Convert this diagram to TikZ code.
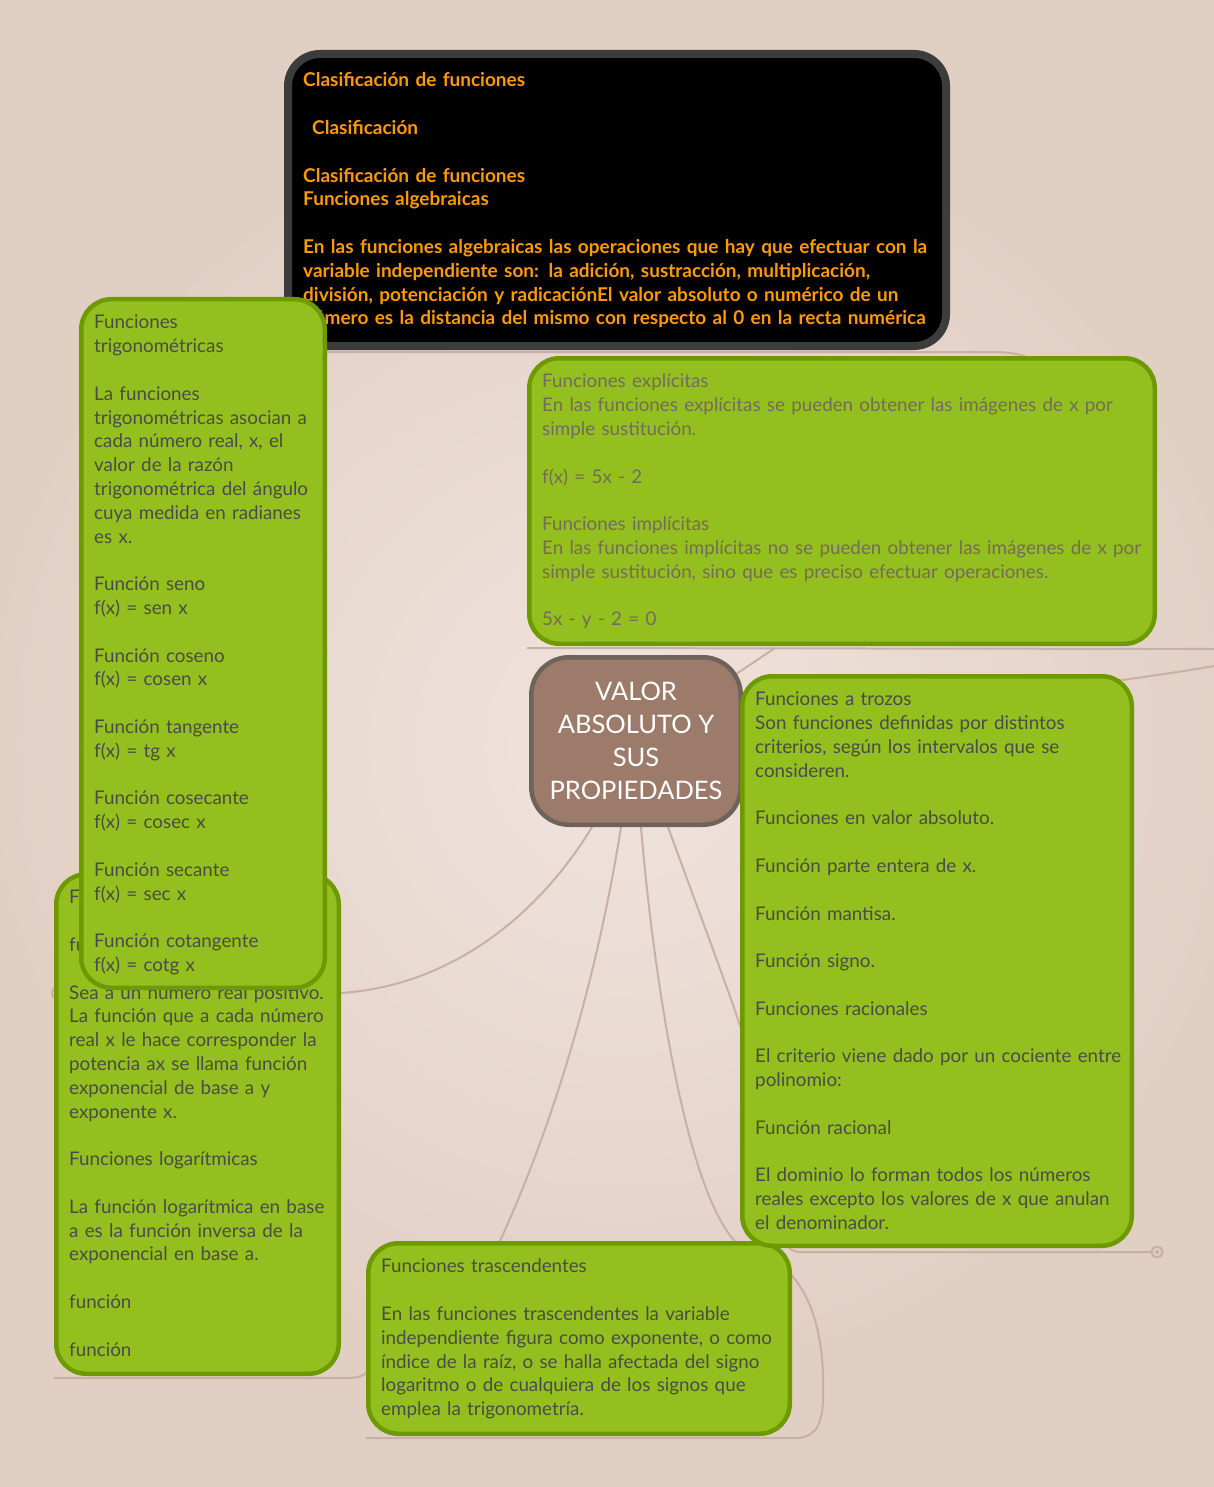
\documentclass[tikz,border=0pt]{standalone}
\usepackage{fontspec}
\setmainfont{Lato}
\definecolor{bgc}{HTML}{E2CFC4}
\definecolor{glow}{HTML}{F0E4DE}
\definecolor{lc}{HTML}{C8B0A4}
\definecolor{gfill}{HTML}{93C01F}
\definecolor{gline}{HTML}{6E9A00}
\definecolor{tx}{HTML}{4B4B48}
\definecolor{txl}{HTML}{756B5A}
\definecolor{orng}{HTML}{FF9A00}
\definecolor{blkline}{HTML}{3C3C3C}
\definecolor{cfill}{HTML}{9C7B6B}
\definecolor{cline}{HTML}{6E635B}
\pgfdeclarelayer{bglayer}
\pgfdeclarelayer{lines}
\pgfsetlayers{bglayer,lines,main}
\newcommand{\bl}{\\[\baselineskip]}
\begin{document}
\begin{tikzpicture}[x=1pt,y=-1pt,
  gbox/.style={draw=gline, fill=gfill, line width=4.5pt, rounded corners=30pt, inner sep=0pt},
  blkbox/.style={draw=blkline, fill=black, line width=8pt, rounded corners=32pt, inner sep=0pt},
  ctrbox/.style={draw=cline, fill=cfill, line width=4.5pt, rounded corners=38pt, inner sep=0pt},
  txt/.style={anchor=north west, inner sep=0pt, align=left, text width=#1, text=tx,
    font=\fontsize{18.8}{23.8}\selectfont},
  conn/.style={draw=lc, line width=2pt}
]
\useasboundingbox (0,0) rectangle (1214,1487);
\begin{pgfonlayer}{bglayer}
  \fill[bgc] (0,0) rectangle (1214,1487);
  \begin{scope}
    \clip (0,0) rectangle (1214,1487);
    \shade[inner color=glow, outer color=bgc] (620,745) circle[radius=640];
  \end{scope}
\end{pgfonlayer}

% boxes
\node[blkbox, minimum width=658pt, minimum height=292pt] (blk) at (617,200) {};
\node[txt=645pt, text=orng, font=\fontsize{19}{23.8}\selectfont\bfseries] (blkt) at (303,70) {\strut Clasificación de funciones\bl
\hspace*{9pt}Clasificación\bl
Clasificación de funciones\\
Funciones algebraicas\bl
En las funciones algebraicas las operaciones que hay que efectuar con la\\
variable independiente son: la adición, sustracción, multiplicación,\\
división, potenciación y radicaciónEl valor absoluto o numérico de un\\
número es la distancia del mismo con respecto al 0 en la recta numérica\strut};

\node[gbox, minimum width=625.5pt, minimum height=285.5pt] (expl) at (842,501) {};
\node[txt=620pt, text=txl] (explt) at (542,371) {\strut Funciones explícitas\\
En las funciones explícitas se pueden obtener las imágenes de x por\\
simple sustitución.\bl
f(x) = 5x - 2\bl
Funciones implícitas\\
En las funciones implícitas no se pueden obtener las imágenes de x por\\
simple sustitución, sino que es preciso efectuar operaciones.\bl
5x - y - 2 = 0\strut};

\node[ctrbox, minimum width=209.5pt, minimum height=167.5pt] (ctr) at (636,741) {};
\node[inner sep=0pt, align=center, text=white, font=\fontsize{25.5}{33}\selectfont] (ctrt) at (636,743) {\strut VALOR\\ ABSOLUTO Y\\ SUS\\ PROPIEDADES\strut};

\node[gbox, minimum width=421.5pt, minimum height=190.5pt] (trasc) at (579,1338.5) {};
\node[txt=420pt] (trasct) at (381,1256) {\strut Funciones trascendentes\bl
En las funciones trascendentes la variable\\
independiente figura como exponente, o como\\
índice de la raíz, o se halla afectada del signo\\
logaritmo o de cualquiera de los signos que\\
emplea la trigonometría.\strut};

\node[gbox, minimum width=389.5pt, minimum height=569.5pt] (troz) at (937,961) {};
\node[txt=380pt] (trozt) at (755,689) {\strut Funciones a trozos\\
Son funciones definidas por distintos\\
criterios, según los intervalos que se\\
consideren.\bl
Funciones en valor absoluto.\bl
Función parte entera de x.\bl
Función mantisa.\bl
Función signo.\bl
Funciones racionales\bl
El criterio viene dado por un cociente entre\\
polinomio:\bl
Función racional\bl
El dominio lo forman todos los números\\
reales excepto los valores de x que anulan\\
el denominador.\strut};

\node[gbox, minimum width=282.5pt, minimum height=499.5pt] (expo) at (197.5,1124) {};
\node[txt=280pt] (expot) at (69,887) {\strut Funciones exponenciales\bl
función exponencial\bl
Sea a un número real positivo.\\
La función que a cada número\\
real x le hace corresponder la\\
potencia ax se llama función\\
exponencial de base a y\\
exponente x.\bl
Funciones logarítmicas\bl
La función logarítmica en base\\
a es la función inversa de la\\
exponencial en base a.\bl
función\bl
función\strut};

\node[gbox, minimum width=243.5pt, minimum height=688.5pt] (trig) at (203,643.5) {};
\node[txt=240pt] (trigt) at (94,312) {\strut Funciones\\
trigonométricas\bl
La funciones\\
trigonométricas asocian a\\
cada número real, x, el\\
valor de la razón\\
trigonométrica del ángulo\\
cuya medida en radianes\\
es x.\bl
Función seno\\
f(x) = sen x\bl
Función coseno\\
f(x) = cosen x\bl
Función tangente\\
f(x) = tg x\bl
Función cosecante\\
f(x) = cosec x\bl
Función secante\\
f(x) = sec x\bl
Función cotangente\\
f(x) = cotg x\strut};

% connectors
\begin{pgfonlayer}{lines}
  \coordinate (m1) at (1157,1252);
  \coordinate (m2) at (58,993);
  \draw[conn] ([xshift=-44pt]ctr.south) .. controls (545,905) and (460,985) .. (expo.east |- m2) -- (m2);
  \draw[conn] ([xshift=-15pt]ctr.south) .. controls (600,960) and (560,1110) .. ([xshift=-79pt]trasc.north);
  \draw[conn] ([xshift=5pt]ctr.south) .. controls (652,960) and (685,1200) .. (740,1246)
     .. controls (815,1262) and (825,1340) .. (823,1400)
     .. controls (822,1430) and (812,1438) .. (795,1438) -- (trasc.south west |- 0,1438);
  \draw[conn] ([xshift=32pt]ctr.south) .. controls (700,915) and (725,980) .. (745,1040)
     .. controls (770,1120) and (760,1252) .. (800,1252) -- ([xshift=-6pt]m1);
  \draw[conn] (m1) circle[radius=5.5];
  \fill[lc] (m1) circle[radius=2];
  \draw[conn] (m2) circle[radius=6];
  \draw[conn] (ctr.center) -- (775,648);
  \draw[conn] (expl.south west |- 0,648) -- (1214,649);
  \draw[conn] (ctr.east) .. controls (900,705) and (1100,686) .. (1214,666);
  \draw[conn] (trig.east |- 0,352) -- (990,352) .. controls (1010,352) and (1025,354) .. (1035,362);
  \draw[conn] (expo.south west |- 0,1378) -- (345,1378) .. controls (358,1378) and (362,1376) .. (trasc.west |- 0,1373);
\end{pgfonlayer}
\end{tikzpicture}
\end{document}
